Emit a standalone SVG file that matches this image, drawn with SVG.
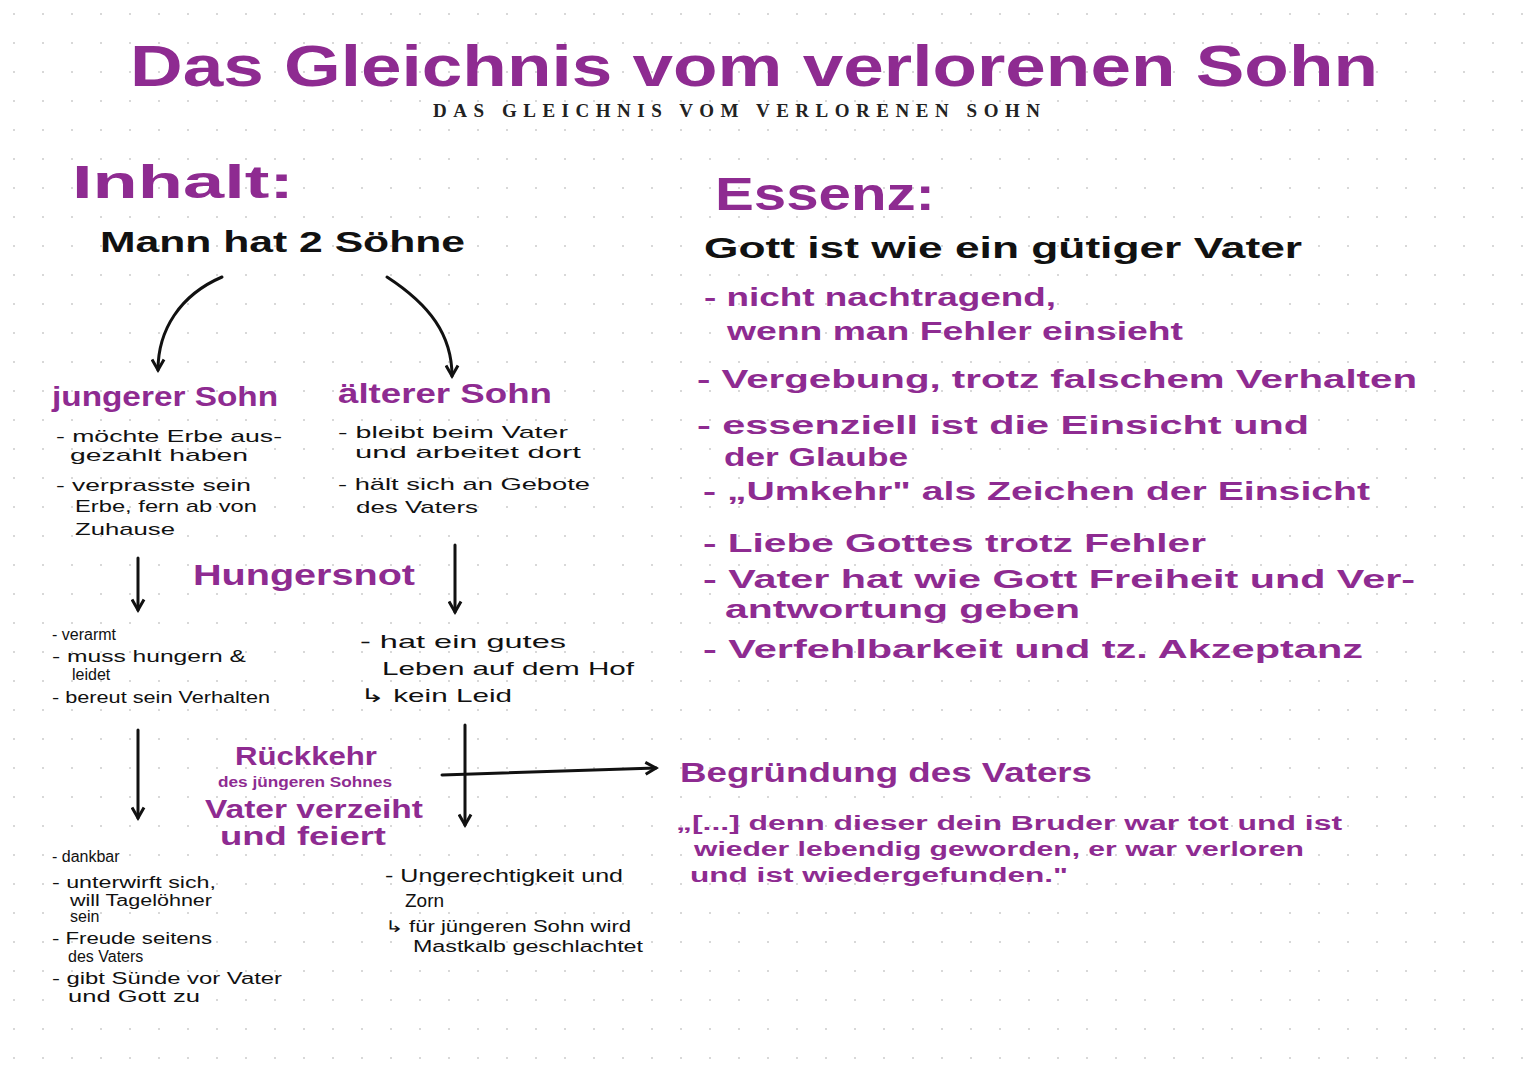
<svg xmlns="http://www.w3.org/2000/svg" width="1525" height="1080" viewBox="0 0 1525 1080">
<defs>
<pattern id="dots" width="29" height="29" patternUnits="userSpaceOnUse"><circle cx="14" cy="14" r="1.1" fill="#cfcfcf"/></pattern>
<marker id="ah" viewBox="0 0 10 10" refX="8" refY="5" markerWidth="5" markerHeight="5" orient="auto"><path d="M1,1 L8,5 L1,9" fill="none" stroke="#111" stroke-width="2"/></marker>
<style>
.p{fill:#8e2b91;font-family:"Liberation Sans",sans-serif;font-weight:bold}
.k{fill:#111;font-family:"Liberation Sans",sans-serif}
.b{font-weight:bold}
.c{fill:none;stroke:#111;stroke-width:3;stroke-linecap:round}
</style>
</defs>
<rect width="1525" height="1080" fill="#fff"/>
<rect width="1525" height="1080" fill="url(#dots)"/>
<g id="title">
<text class="p" x="130" y="86" font-size="58" textLength="1248" lengthAdjust="spacingAndGlyphs">Das Gleichnis vom verlorenen Sohn</text>
<text x="433" y="117" font-size="19" textLength="607" lengthAdjust="spacing" fill="#222" font-family="Liberation Serif,serif" font-weight="bold">DAS GLEICHNIS VOM VERLORENEN SOHN</text>
</g>
<g id="inhalt">
<text class="p" x="72" y="198" font-size="46" textLength="222" lengthAdjust="spacingAndGlyphs">Inhalt:</text>
<text class="k b" x="100" y="252" font-size="30" textLength="365" lengthAdjust="spacingAndGlyphs">Mann hat 2 Söhne</text>
</g>
<g id="juengerer">
<text class="p" x="52" y="406" font-size="28" textLength="226" lengthAdjust="spacingAndGlyphs">jungerer Sohn</text>
<text class="k" font-size="17"><tspan x="56" y="442" textLength="226" lengthAdjust="spacingAndGlyphs">- möchte Erbe aus-</tspan><tspan x="70" y="461" textLength="178" lengthAdjust="spacingAndGlyphs">gezahlt haben</tspan><tspan x="56" y="491" textLength="195" lengthAdjust="spacingAndGlyphs">- verprasste sein</tspan><tspan x="75" y="512" textLength="182" lengthAdjust="spacingAndGlyphs">Erbe, fern ab von</tspan><tspan x="75" y="535" textLength="100" lengthAdjust="spacingAndGlyphs">Zuhause</tspan></text>
</g>
<g id="aelterer">
<text class="p" x="338" y="403" font-size="28" textLength="214" lengthAdjust="spacingAndGlyphs">älterer Sohn</text>
<text class="k" font-size="17"><tspan x="338" y="438" textLength="230" lengthAdjust="spacingAndGlyphs">- bleibt beim Vater</tspan><tspan x="355" y="458" textLength="226" lengthAdjust="spacingAndGlyphs">und arbeitet dort</tspan><tspan x="338" y="490" textLength="252" lengthAdjust="spacingAndGlyphs">- hält sich an Gebote</tspan><tspan x="356" y="513" textLength="122" lengthAdjust="spacingAndGlyphs">des Vaters</tspan></text>
</g>
<g id="hungersnot"><text class="p" x="193" y="585" font-size="30" textLength="222" lengthAdjust="spacingAndGlyphs">Hungersnot</text></g>
<g id="verarmt"><text class="k" font-size="16"><tspan x="52" y="640">- verarmt</tspan><tspan x="52" y="662" textLength="194" lengthAdjust="spacingAndGlyphs">- muss hungern &amp;</tspan><tspan x="72" y="680">leidet</tspan><tspan x="52" y="703" textLength="218" lengthAdjust="spacingAndGlyphs">- bereut sein Verhalten</tspan></text></g>
<g id="gutes"><text class="k" font-size="19"><tspan x="360" y="648" textLength="206" lengthAdjust="spacingAndGlyphs">- hat ein gutes</tspan><tspan x="382" y="675" textLength="252" lengthAdjust="spacingAndGlyphs">Leben auf dem Hof</tspan><tspan x="360" y="702" textLength="152" lengthAdjust="spacingAndGlyphs">↳ kein Leid</tspan></text></g>
<g id="rueckkehr">
<text class="p" x="235" y="765" font-size="26" textLength="142" lengthAdjust="spacingAndGlyphs">Rückkehr</text>
<text class="p" x="218" y="787" font-size="14" textLength="174" lengthAdjust="spacingAndGlyphs">des jüngeren Sohnes</text>
<text class="p" x="205" y="818" font-size="26" textLength="218" lengthAdjust="spacingAndGlyphs">Vater verzeiht</text>
<text class="p" x="220" y="845" font-size="26" textLength="166" lengthAdjust="spacingAndGlyphs">und feiert</text>
</g>
<g id="dankbar"><text class="k" font-size="16"><tspan x="52" y="862">- dankbar</tspan><tspan x="52" y="888" textLength="164" lengthAdjust="spacingAndGlyphs">- unterwirft sich,</tspan><tspan x="70" y="906" textLength="142" lengthAdjust="spacingAndGlyphs">will Tagelöhner</tspan><tspan x="70" y="922">sein</tspan><tspan x="52" y="944" textLength="160" lengthAdjust="spacingAndGlyphs">- Freude seitens</tspan><tspan x="68" y="962">des Vaters</tspan><tspan x="52" y="984" textLength="230" lengthAdjust="spacingAndGlyphs">- gibt Sünde vor Vater</tspan><tspan x="68" y="1002" textLength="132" lengthAdjust="spacingAndGlyphs">und Gott zu</tspan></text></g>
<g id="zorn"><text class="k" font-size="19"><tspan x="385" y="882" textLength="238" lengthAdjust="spacingAndGlyphs">- Ungerechtigkeit und</tspan><tspan x="405" y="907">Zorn</tspan></text><text class="k" font-size="16"><tspan x="385" y="932" textLength="246" lengthAdjust="spacingAndGlyphs">↳ für jüngeren Sohn wird</tspan><tspan x="413" y="952" textLength="230" lengthAdjust="spacingAndGlyphs">Mastkalb geschlachtet</tspan></text></g>
<g id="essenz">
<text class="p" x="715" y="210" font-size="46" textLength="220" lengthAdjust="spacingAndGlyphs">Essenz:</text>
<text class="k b" x="704" y="258" font-size="30" textLength="598" lengthAdjust="spacingAndGlyphs">Gott ist wie ein gütiger Vater</text>
<text class="p" font-size="26"><tspan x="704" y="306" textLength="352" lengthAdjust="spacingAndGlyphs">- nicht nachtragend,</tspan><tspan x="727" y="340" textLength="456" lengthAdjust="spacingAndGlyphs">wenn man Fehler einsieht</tspan><tspan x="697" y="388" textLength="720" lengthAdjust="spacingAndGlyphs">- Vergebung, trotz falschem Verhalten</tspan><tspan x="697" y="434" textLength="612" lengthAdjust="spacingAndGlyphs">- essenziell ist die Einsicht und</tspan><tspan x="724" y="466" textLength="184" lengthAdjust="spacingAndGlyphs">der Glaube</tspan><tspan x="703" y="500" textLength="667" lengthAdjust="spacingAndGlyphs">- „Umkehr" als Zeichen der Einsicht</tspan><tspan x="703" y="552" textLength="503" lengthAdjust="spacingAndGlyphs">- Liebe Gottes trotz Fehler</tspan><tspan x="703" y="588" textLength="712" lengthAdjust="spacingAndGlyphs">- Vater hat wie Gott Freiheit und Ver-</tspan><tspan x="725" y="618" textLength="355" lengthAdjust="spacingAndGlyphs">antwortung geben</tspan><tspan x="703" y="658" textLength="660" lengthAdjust="spacingAndGlyphs">- Verfehlbarkeit und tz. Akzeptanz</tspan></text>
</g>
<g id="begruendung">
<text class="p" x="680" y="782" font-size="28" textLength="412" lengthAdjust="spacingAndGlyphs">Begründung des Vaters</text>
<text class="p" font-size="20"><tspan x="676" y="830" textLength="666" lengthAdjust="spacingAndGlyphs">„[...] denn dieser dein Bruder war tot und ist</tspan><tspan x="694" y="856" textLength="610" lengthAdjust="spacingAndGlyphs">wieder lebendig geworden, er war verloren</tspan><tspan x="690" y="882" textLength="378" lengthAdjust="spacingAndGlyphs">und ist wiedergefunden."</tspan></text>
</g>
<g id="connectors">
<path class="c" d="M222,277 C180,295 158,330 158,370" marker-end="url(#ah)"/>
<path class="c" d="M387,277 C430,305 452,335 452,376" marker-end="url(#ah)"/>
<path class="c" d="M138,558 L138,610" marker-end="url(#ah)"/>
<path class="c" d="M455,545 L455,612" marker-end="url(#ah)"/>
<path class="c" d="M138,730 L138,818" marker-end="url(#ah)"/>
<path class="c" d="M465,725 L465,825" marker-end="url(#ah)"/>
<path class="c" d="M442,775 L656,768" marker-end="url(#ah)"/>
</g>
</svg>
